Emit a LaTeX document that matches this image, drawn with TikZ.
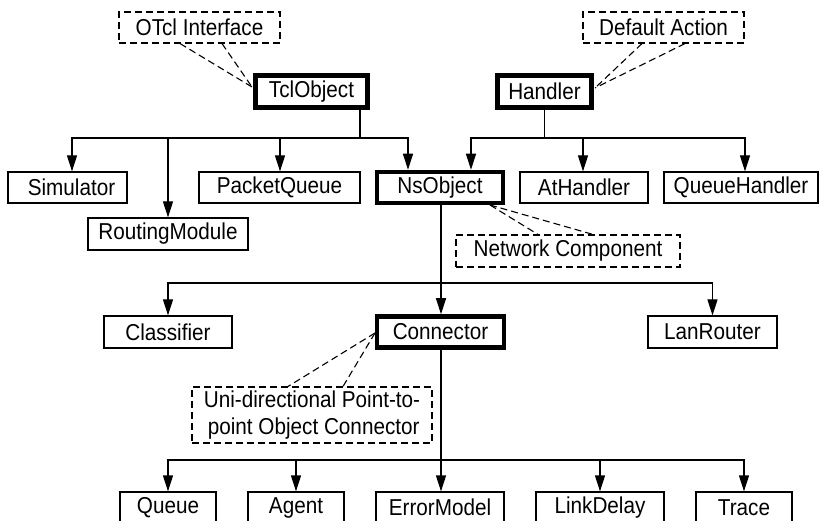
\documentclass[tikz,border=0pt]{standalone}
\usepackage{fontspec}
\setmainfont{Liberation Sans}[FakeStretch=0.9]
\usetikzlibrary{arrows.meta,calc}

\tikzset{
  cls/.style={draw, line width=1.2pt, inner sep=0pt, minimum height=31pt,
              font=\fontsize{23}{27}\selectfont},
  base/.style={cls, line width=4.5pt, minimum height=32pt},
  note/.style={cls, dash pattern=on 7pt off 4pt, line width=1.1pt},
  link/.style={line width=1.2pt},
  arr/.style={link, -{Triangle[length=16pt,width=10pt]}},
  notelink/.style={line width=1.1pt, dash pattern=on 7pt off 4pt},
}

\begin{document}
\begin{tikzpicture}[x=1pt, y=-1pt]
\useasboundingbox (0,0) rectangle (820,521);
\clip (0,0) rectangle (820,521);

% roots and their notes
\node[note, minimum width=161pt] (otcl) at (199.5,27.5) {OTcl Interface};
\node[note, minimum width=161pt] (defact) at (663.5,27.5) {Default Action};
\node[base, minimum width=112pt] (tcl) at (311.5,91.5) {TclObject};
\node[base, minimum width=94pt] (handler) at (544.5,91.5) {Handler};

% second level
\node[cls, minimum width=119pt] (sim) at (67.5,187.5) {\hspace*{8pt}Simulator};
\node[cls, minimum width=160pt, minimum height=32pt] (routing) at (168,234) {RoutingModule};
\node[cls, minimum width=161pt] (pq) at (279.5,187.5) {PacketQueue};
\node[base, minimum width=126pt, minimum height=31pt] (ns) at (440,187.5) {NsObject};
\node[cls, minimum width=128pt] (ath) at (584,187.5) {AtHandler};
\node[cls, minimum width=154pt] (qh) at (741,187.5) {QueueHandler};
\node[note, minimum width=224pt, minimum height=32pt] (netc) at (568,251) {Network Component};

% third level
\node[cls, minimum width=128pt, minimum height=32pt] (clf) at (168,332) {Classifier};
\node[base, minimum width=127pt, minimum height=31pt] (conn) at (440.5,332) {Connector};
\node[cls, minimum width=129pt, minimum height=32pt] (lan) at (712.5,332) {LanRouter};
\node[note, minimum width=240pt, minimum height=56pt, align=left] (uni) at (312,415)
  {Uni-directional Point-to-\\\hspace*{4pt}point Object Connector};

% leaves
\node[cls, minimum width=96pt] (queue) at (168,507.5) {Queue};
\node[cls, minimum width=96pt] (agent) at (296,507.5) {Agent};
\node[cls, minimum width=128pt] (err) at (440,507.5) {ErrorModel};
\node[cls, minimum width=128pt] (ld) at (600,507.5) {LinkDelay};
\node[cls, minimum width=96pt] (trace) at (744,507.5) {Trace};

% bus junctions
\coordinate (tclbus) at (360,138);
\coordinate (hbus) at (544.5,138);
\coordinate (nsbus) at (441,283);
\coordinate (cbus) at (441,460);

% TclObject hierarchy
\draw[link] (tcl.south -| tclbus) -- (tclbus);
\draw[arr] (tclbus) -| ([xshift=4.5]sim.north);
\draw[arr] (tclbus) -| (routing.north);
\draw[arr] (tclbus) -| ([xshift=0.5]pq.north);
\draw[arr] (tclbus) -| ([xshift=-32]ns.north);

% Handler hierarchy
\draw[link] (handler.south) -- (hbus);
\draw[arr] (hbus) -| ([xshift=31]ns.north);
\draw[arr] (hbus) -| ([xshift=-1]ath.north);
\draw[arr] (hbus) -| ([xshift=4]qh.north);

% NsObject hierarchy
\draw[link] (ns.south -| nsbus) -- (nsbus);
\draw[arr] (nsbus) -| (clf.north);
\draw[arr] (nsbus) -- (nsbus |- conn.north);
\draw[arr] (nsbus) -| (lan.north);

% Connector hierarchy
\draw[link] (conn.south -| cbus) -- (cbus);
\draw[arr] (cbus) -| (queue.north);
\draw[arr] (cbus) -| (agent.north);
\draw[arr] (cbus) -- (cbus |- err.north);
\draw[arr] (cbus) -| (ld.north);
\draw[arr] (cbus) -| (trace.north);

% notes
\coordinate (tclnote) at (252,87);
\draw[notelink] (otcl.south -| 180,0) -- (tclnote);
\draw[notelink] (otcl.south -| 222,0) -- (tclnote);

\coordinate (hnote) at (595,88);
\draw[notelink] (defact.south -| 642,0) -- (hnote);
\draw[notelink] (defact.south -| 685,0) -- (hnote);

\coordinate (nsnote) at (490,205);
\draw[notelink] (nsnote) -- (netc.north -| 538,0);
\draw[notelink] (nsnote) -- (netc.north -| 593,0);

\coordinate (cnote) at (375,333);
\draw[notelink] (cnote) -- (uni.north -| 288,0);
\draw[notelink] (cnote) -- (uni.north -| 343,0);
\end{tikzpicture}
\end{document}
